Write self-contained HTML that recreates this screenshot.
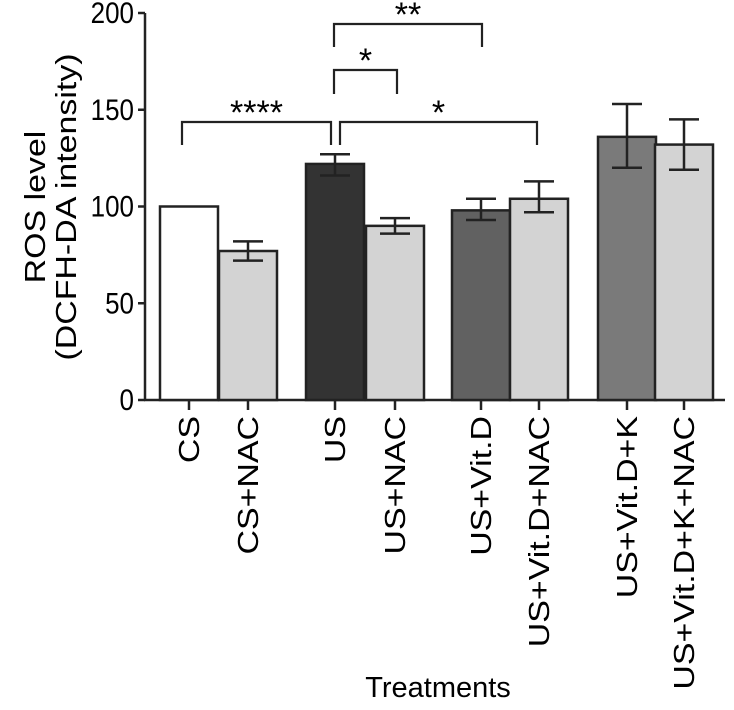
<!DOCTYPE html>
<html><head><meta charset="utf-8"><style>
body{margin:0;background:#fff}
svg{font-family:"Liberation Sans",Arial,sans-serif}
</style></head><body>
<svg id="chart" width="734" height="705" viewBox="0 0 734 705">
<g id="axes"></g><g id="bars"></g><g id="sig"></g>
<text x="438" y="697" font-size="29" text-anchor="middle">Treatments</text>
<text transform="translate(45,207) rotate(-90) scale(1.17,1)" font-size="29" text-anchor="middle">ROS level</text>
<text transform="translate(76,207) rotate(-90) scale(1.17,1)" font-size="29" text-anchor="middle">(DCFH-DA intensity)</text>
</svg>
<script>
const categories=["CS","CS+NAC","US","US+NAC","US+Vit.D","US+Vit.D+NAC","US+Vit.D+K","US+Vit.D+K+NAC"];
const values=[100,77,122,90,98,104,136,132];
const errLow=[100,72,116,86,93,97,120,119];
const errHigh=[100,82,127,94,104,113,153,145];
const fills=["#ffffff","#d3d3d3","#333333","#d3d3d3","#616161","#d3d3d3","#7a7a7a","#d3d3d3"];
const yTicks=[0,50,100,150,200];
const barLefts=[160,219,306,366,452,510,598,655];
const NS="http://www.w3.org/2000/svg";
const y=v=>400-v*1.935;
const bw=58;
function mk(tag,attrs,parent,text){const e=document.createElementNS(NS,tag);for(const k in attrs)e.setAttribute(k,attrs[k]);if(text!==undefined)e.textContent=text;parent.appendChild(e);return e;}
const axes=document.getElementById('axes'),bars=document.getElementById('bars'),sig=document.getElementById('sig');
let a=mk('line',{x1:145,y1:y(200),x2:145,y2:400,stroke:'#222','stroke-width':2.5},axes);

a=mk('line',{x1:144,y1:400,x2:725,y2:400,stroke:'#222','stroke-width':2.5},axes);

yTicks.forEach(t=>{
 let l=mk('line',{x1:138,y1:y(t),x2:145,y2:y(t),stroke:'#222','stroke-width':2.5},axes);
 
 let tx=mk('text',{transform:`translate(134,${y(t)+10}) scale(1,1.15)`,'font-size':26,'text-anchor':'end'},axes,String(t));
 
});
categories.forEach((c,i)=>{
 const x0=barLefts[i],cx=x0+bw/2;
 let r=mk('rect',{x:x0,y:y(values[i]),width:bw,height:400-y(values[i]),fill:fills[i],stroke:'#222','stroke-width':2.5},bars);
 
 if(errHigh[i]>errLow[i]){
  let g=mk('g',{stroke:'#222','stroke-width':2.5},bars);
  
  mk('line',{x1:cx,y1:y(errHigh[i]),x2:cx,y2:y(errLow[i])},g);
  mk('line',{x1:cx-15,y1:y(errHigh[i]),x2:cx+15,y2:y(errHigh[i])},g);
  mk('line',{x1:cx-15,y1:y(errLow[i]),x2:cx+15,y2:y(errLow[i])},g);
 }
 let tk=mk('line',{x1:cx,y1:400,x2:cx,y2:410,stroke:'#222','stroke-width':2.5},axes);
 
 let t=mk('text',{transform:`translate(${cx+10},416) rotate(-90) scale(1.17,1)`,'font-size':29,'text-anchor':'end'},axes,c);
 
});
const brackets=[[182,331,122,145,"****"],[340,537,122,145,"*"],[334,397,70,94,"*"],[334,482,24,47,"**"]];
brackets.forEach(b=>{
 let g=mk('g',{},sig);
 
 mk('path',{d:`M${b[0]} ${b[3]}V${b[2]}H${b[1]}V${b[3]}`,fill:'none',stroke:'#222','stroke-width':2.2},g);
 mk('text',{x:(b[0]+b[1])/2,y:b[2]+2,'font-size':34,'text-anchor':'middle'},g,b[4]);
});
</script>
</body></html>
